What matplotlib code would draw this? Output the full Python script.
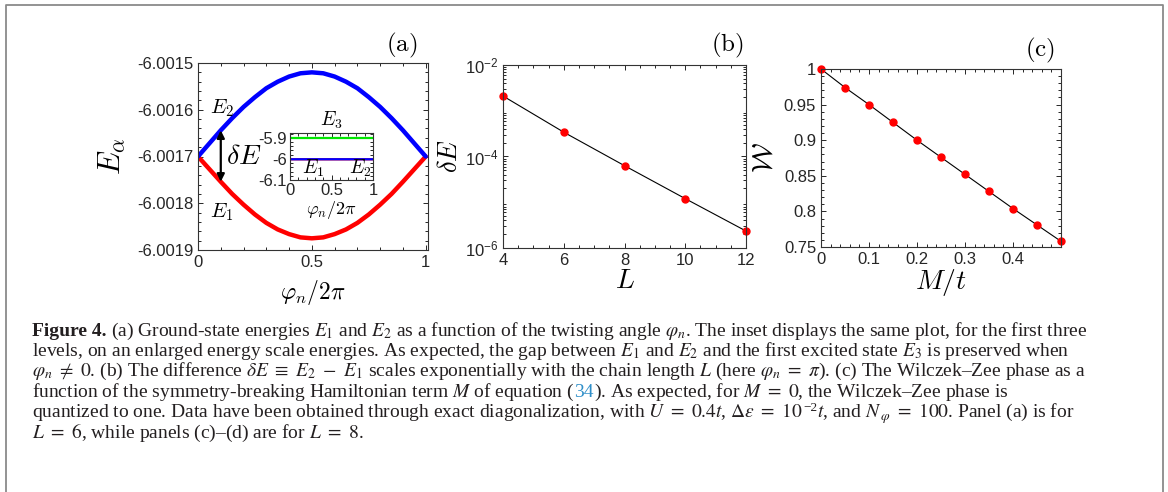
import numpy as np
import matplotlib.pyplot as plt
from matplotlib.lines import Line2D
from matplotlib.ticker import FixedLocator, FormatStrFormatter, AutoMinorLocator, LogLocator, LogFormatterMathtext, NullFormatter

plt.rcParams['font.family'] = ['Liberation Sans', 'DejaVu Sans']
plt.rcParams['mathtext.fontset'] = 'cm'
plt.rcParams['axes.unicode_minus'] = False

# --- data ---
# panel (a): ground-state energies vs twisting angle
phi = [0.0, 0.05, 0.1, 0.15, 0.2, 0.25, 0.3, 0.35, 0.4, 0.45, 0.5,
       0.55, 0.6, 0.65, 0.7, 0.75, 0.8, 0.85, 0.9, 0.95, 1.0]
e2 = [-6.001700, -6.001672, -6.001644, -6.001618, -6.001594, -6.001573, -6.001554,
      -6.001540, -6.001529, -6.001522, -6.001520, -6.001522, -6.001529, -6.001540,
      -6.001554, -6.001573, -6.001594, -6.001618, -6.001644, -6.001672, -6.001700]
e1 = [-6.001700, -6.001727, -6.001754, -6.001780, -6.001803, -6.001824, -6.001842,
      -6.001856, -6.001866, -6.001873, -6.001875, -6.001873, -6.001866, -6.001856,
      -6.001842, -6.001824, -6.001803, -6.001780, -6.001754, -6.001727, -6.001700]
# inset: first excited level
phi_e3 = [0.0, 1.0]
e3 = [-5.9, -5.9]

# panel (b): gap vs chain length
L_vals = [4, 6, 8, 10, 12]
dE = [2.1e-3, 3.4e-4, 6.3e-5, 1.2e-5, 2.35e-6]

# panel (c): Wilczek-Zee phase vs M/t
M_vals = [0.0, 0.05, 0.1, 0.15, 0.2, 0.25, 0.3, 0.35, 0.4, 0.45, 0.5]
W_vals = [1.0, 0.974, 0.950, 0.925, 0.900, 0.876, 0.852, 0.828, 0.804, 0.781, 0.758]

W, H = 1168, 492
fig = plt.figure(figsize=(W / 100, H / 100), dpi=100)


def px_axes(l, t, r, b):
    return fig.add_axes([l / W, 1 - b / H, (r - l) / W, (b - t) / H])


def matlab_style(ax, size=12):
    ax.tick_params(which='both', direction='in', top=True, right=True,
                   labelsize=size, colors='#262626', width=0.7)
    ax.tick_params(which='major', length=3.5)
    ax.tick_params(which='minor', length=2)
    for s in ax.spines.values():
        s.set_color('#333333')
        s.set_linewidth(0.8)


# (a)
ax1 = px_axes(198, 63, 428, 250)
ax1.plot(phi, e1, color='#ff0000', lw=3.2, solid_capstyle='round')
ax1.plot(phi, e2, color='#0000ff', lw=3.2, solid_capstyle='round')
ax1.set_xlim(0, 1.01)
ax1.set_ylim(-6.0019, -6.0015)
ax1.xaxis.set_major_locator(FixedLocator([0, 0.5, 1]))
ax1.yaxis.set_major_locator(FixedLocator([-6.0019, -6.0018, -6.0017, -6.0016, -6.0015]))
ax1.xaxis.set_major_formatter(FormatStrFormatter('%g'))
ax1.yaxis.set_major_formatter(FormatStrFormatter('%g'))
ax1.xaxis.set_minor_locator(AutoMinorLocator(5))
ax1.yaxis.set_minor_locator(AutoMinorLocator(5))
matlab_style(ax1)
ax1.set_ylabel(r'$E_\alpha$', fontsize=22)
ax1.yaxis.set_label_coords(-0.31, 0.5)
ax1.set_xlabel(r'$\varphi_n/2\pi$', fontsize=17)
ax1.xaxis.set_label_coords(0.5, -0.15)
ax1.annotate('', xy=(phi[2], e1[2]), xytext=(phi[2], e2[2]),
             arrowprops=dict(arrowstyle='<|-|>', color='k', lw=1.6, mutation_scale=11,
                             shrinkA=0, shrinkB=0))
ax1.text(0.2, -6.00170, r'$\delta E$', fontsize=20, ha='center', va='center')
ax1.text(0.105, -6.001596, r'$E_2$', fontsize=15, ha='center', va='center')
ax1.text(0.105, -6.001819, r'$E_1$', fontsize=15, ha='center', va='center')

# inset
axi = px_axes(290, 133, 373, 180)
axi.plot(phi, e1, color='#ff0000', lw=1.6)
axi.plot(phi, e2, color='#0000ff', lw=1.6)
axi.plot(phi_e3, e3, color='#00e600', lw=1.6)
axi.set_xlim(0, 1)
axi.set_ylim(-6.1, -5.877)
axi.xaxis.set_major_locator(FixedLocator([0, 0.5, 1]))
axi.yaxis.set_major_locator(FixedLocator([-6.1, -6.0, -5.9]))
axi.xaxis.set_major_formatter(FormatStrFormatter('%g'))
axi.yaxis.set_major_formatter(FormatStrFormatter('%g'))
axi.xaxis.set_minor_locator(AutoMinorLocator(5))
axi.yaxis.set_minor_locator(AutoMinorLocator(5))
matlab_style(axi)
axi.tick_params(which='major', pad=2)
axi.set_xlabel(r'$\varphi_n/2\pi$', fontsize=13, labelpad=1)
axi.text(0.5, 1.04, r'$E_3$', transform=axi.transAxes, fontsize=14, ha='center', va='bottom')
axi.text(0.28, -6.047, r'$E_1$', fontsize=14, ha='center', va='center')
axi.text(0.85, -6.047, r'$E_2$', fontsize=14, ha='center', va='center')

# (b)
ax2 = px_axes(503, 65, 746, 248)
ax2.plot(L_vals, dE, color='k', lw=0.8, marker='o', ms=5,
         mfc='#ff0000', mec='#ff0000', clip_on=False)
ax2.set_yscale('log')
ax2.set_xlim(4, 12)
ax2.set_ylim(1e-6, 1e-2)
ax2.xaxis.set_major_locator(FixedLocator([4, 6, 8, 10, 12]))
ax2.xaxis.set_major_formatter(FormatStrFormatter('%g'))
ax2.xaxis.set_minor_locator(AutoMinorLocator(4))
ax2.yaxis.set_major_locator(FixedLocator([1e-6, 1e-4, 1e-2]))
ax2.yaxis.set_major_formatter(LogFormatterMathtext())
ax2.yaxis.set_minor_locator(LogLocator(base=10, subs=np.arange(2, 10), numticks=20))
ax2.yaxis.set_minor_formatter(NullFormatter())
matlab_style(ax2)
ax2.set_ylabel(r'$\delta E$', fontsize=19)
ax2.yaxis.set_label_coords(-0.17, 0.5)
ax2.set_xlabel(r'$L$', fontsize=20)
ax2.xaxis.set_label_coords(0.5, -0.11)

# (c)
ax3 = px_axes(821, 69, 1061, 247)
ax3.plot(M_vals, W_vals, color='k', lw=0.8, marker='o', ms=5,
         mfc='#ff0000', mec='#ff0000', clip_on=False)
ax3.set_xlim(0, 0.5)
ax3.set_ylim(0.75, 1.0)
ax3.xaxis.set_major_locator(FixedLocator([0, 0.1, 0.2, 0.3, 0.4]))
ax3.yaxis.set_major_locator(FixedLocator([0.75, 0.8, 0.85, 0.9, 0.95, 1.0]))
ax3.xaxis.set_major_formatter(FormatStrFormatter('%g'))
ax3.yaxis.set_major_formatter(FormatStrFormatter('%g'))
ax3.xaxis.set_minor_locator(AutoMinorLocator(5))
ax3.yaxis.set_minor_locator(AutoMinorLocator(5))
matlab_style(ax3)
ax3.set_ylabel(r'$\mathcal{W}$', fontsize=20)
ax3.yaxis.set_label_coords(-0.18, 0.5)
ax3.set_xlabel(r'$M/t$', fontsize=20)
ax3.xaxis.set_label_coords(0.5, -0.11)

# panel tags
for lab, x, y in [('(a)', 402, 45), ('(b)', 727, 45), ('(c)', 1040, 50)]:
    fig.text(x / W, 1 - y / H, r'$\mathrm{' + lab + '}$', fontsize=18, ha='center', va='center')

# frame
fc = '#8a8a8a'
fig.add_artist(Line2D([6 / W, 6 / W, 1163 / W, 1163 / W], [0, 1 - 5 / H, 1 - 5 / H, 0],
                      transform=fig.transFigure, color=fc, lw=1.3))

# caption
renderer = fig.canvas.get_renderer()
cap_kw = dict(fontsize=14.0, family='Liberation Serif', math_fontfamily='stix', color='#231f20')
cap_lines = [
    [(r'Figure 4. ', dict(weight='bold')),
     (r'(a) Ground-state energies $E_1$ and $E_2$ as a function of the twisting angle $\varphi_n$. '
      r'The inset displays the same plot, for the first three', {})],
    [(r'levels, on an enlarged energy scale energies. As expected, the gap between $E_1$ and $E_2$ '
      r'and the first excited state $E_3$ is preserved when', {})],
    [(r'$\varphi_n\ \neq\ 0$. (b) The difference $\delta E\ \equiv\ E_2\ -\ E_1$ scales exponentially with '
      r'the chain length $L$ (here $\varphi_n\ =\ \pi$). (c) The Wilczek–Zee phase as a', {})],
    [(r'function of the symmetry-breaking Hamiltonian term $M$ of equation (', {}),
     ('34', dict(color='#2f8fc9')),
     (r'). As expected, for $M\ =\ 0$, the Wilczek–Zee phase is', {})],
    [(r'quantized to one. Data have been obtained through exact diagonalization, with $U\ =\ 0.4t$, '
      r'$\Delta\epsilon\ =\ 10$', {}),
     ('\u22122', dict(fontsize=9.5, dy=-5.5)),
     (r'$t$, and $N$', {}),
     (r'$\varphi$', dict(fontsize=10, dy=3, dx=-1.5)),
     (r'$\ =\ 100$. Panel (a) is for', {})],
    [(r'$L\ =\ 6$, while panels (c)–(d) are for $L\ =\ 8$.', {})],
]
base_y = [336, 356.2, 376.4, 396.6, 416.8, 437.5]
for y, segs in zip(base_y, cap_lines):
    x = 32
    for s, kw in segs:
        opts = dict(cap_kw)
        opts.update(kw)
        dy = opts.pop('dy', 0)
        x += opts.pop('dx', 0)
        t = fig.text(x / W, 1 - (y + dy) / H, s, ha='left', va='baseline', **opts)
        x += t.get_window_extent(renderer).width

fig.savefig('out.png', dpi=100)
